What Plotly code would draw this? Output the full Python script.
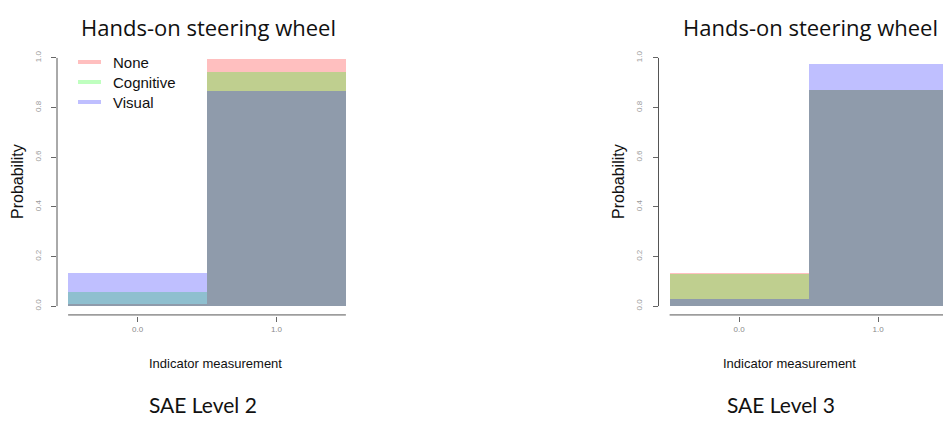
import plotly.graph_objects as go

# Indicator categories and tick labels
categories = [0, 1]
x_tick_text = ["0.0", "1.0"]
y_tick_vals = [0.0, 0.2, 0.4, 0.6, 0.8, 1.0]
y_tick_text = ["0.0", "0.2", "0.4", "0.6", "0.8", "1.0"]

series_names = ["None", "Cognitive", "Visual"]
series_colors = ["rgba(255,0,0,0.25)", "rgba(0,255,0,0.25)", "rgba(0,0,255,0.25)"]

# Probability of each indicator value per distraction condition
level2_none = [0.01, 0.995]
level2_cognitive = [0.055, 0.945]
level2_visual = [0.135, 0.865]

level3_none = [0.135, 0.87]
level3_cognitive = [0.13, 0.87]
level3_visual = [0.03, 0.975]

panel_titles = ["Hands-on steering wheel", "Hands-on steering wheel"]
panel_captions = ["SAE Level 2", "SAE Level 3"]
x_title = "Indicator measurement"
y_title = "Probability"

W, H = 943, 441


def px(x):
    return x / W


def py(y):
    return 1 - y / H


fig = go.Figure()

panels = [
    ("x", "y", [level2_none, level2_cognitive, level2_visual]),
    ("x2", "y2", [level3_none, level3_cognitive, level3_visual]),
]
for xa, ya, series in panels:
    for name, color, vals in zip(series_names, series_colors, series):
        fig.add_trace(go.Bar(
            x=categories, y=vals, name=name, width=1,
            marker=dict(color=color, line=dict(width=0)),
            xaxis=xa, yaxis=ya, showlegend=False,
        ))

# axis geometry (pixels): unit width 139px, y unit 248px
x_left = [-0.58, 1.58]
x_right = [-0.58, -0.58 + (W - 658.5) / 139]
y_rng = [-0.04, 1.04]
y_dom = [py(316), py(48)]

common_x = dict(
    tickmode="array", tickvals=categories, ticktext=x_tick_text,
    ticks="outside", ticklen=5, tickcolor="#666", tickwidth=1,
    tickfont=dict(family="Liberation Sans", size=8, color="#8a8a8a"),
    showgrid=False, zeroline=False, showline=False, fixedrange=True,
)
common_y = dict(
    range=y_rng, domain=y_dom,
    tickmode="array", tickvals=y_tick_vals, ticktext=y_tick_text,
    ticks="outside", ticklen=5, tickcolor="#666", tickwidth=1, tickangle=-90,
    tickfont=dict(family="Liberation Sans", size=8, color="#9a9a9a"),
    ticklabelstandoff=7,
    showgrid=False, zeroline=False, showline=False, fixedrange=True,
)

fig.update_layout(
    width=W, height=H,
    margin=dict(l=0, r=0, t=0, b=0),
    paper_bgcolor="white", plot_bgcolor="white",
    barmode="overlay", bargap=0,
    xaxis=dict(domain=[px(57), px(357)], range=x_left, anchor="y", **common_x),
    yaxis=dict(anchor="x", **common_y),
    xaxis2=dict(domain=[px(658.5), 1.0], range=x_right, anchor="y2", **common_x),
    yaxis2=dict(anchor="x2", **common_y),
)

shapes = []
annotations = []
for xa, ya, xr in [("x", "y", x_left), ("x2", "y2", x_right)]:
    # R-style axis lines spanning only the data extent
    shapes.append(dict(type="line", xref=f"{xa} domain", yref=ya,
                       x0=0, x1=0, y0=0, y1=1, line=dict(color="#555", width=1)))
    shapes.append(dict(type="line", xref=xa, yref=f"{ya} domain",
                       x0=-0.5, x1=min(1.5, xr[1]), y0=0.004, y1=0.004,
                       line=dict(color="#555", width=1)))

# legend drawn as short coloured strokes with labels
for i, (name, color) in enumerate(zip(series_names, series_colors)):
    yy = 62 + i * 20
    shapes.append(dict(type="line", xref="paper", yref="paper",
                       x0=px(78), x1=px(101), y0=py(yy), y1=py(yy),
                       line=dict(color=color, width=4)))
    annotations.append(dict(text=name, xref="paper", yref="paper",
                            x=px(111), y=py(yy), xanchor="left", yanchor="middle",
                            showarrow=False,
                            font=dict(family="Liberation Sans", size=15, color="#111")))

for cx, title, cap_x, xt_x, yl_x, caption in [
    (208, panel_titles[0], 203, 215, 17, panel_captions[0]),
    (810, panel_titles[1], 781, 789, 618, panel_captions[1]),
]:
    annotations.append(dict(text=title, xref="paper", yref="paper",
                            x=px(cx), y=py(27), xanchor="center", yanchor="middle",
                            showarrow=False,
                            font=dict(family="Open Sans", size=22, color="#111")))
    annotations.append(dict(text=x_title, xref="paper", yref="paper",
                            x=px(xt_x), y=py(363), xanchor="center", yanchor="middle",
                            showarrow=False,
                            font=dict(family="Liberation Sans", size=13, color="#111")))
    annotations.append(dict(text=y_title, xref="paper", yref="paper",
                            x=px(yl_x), y=py(182), xanchor="center", yanchor="middle",
                            textangle=-90, showarrow=False,
                            font=dict(family="Liberation Sans", size=16, color="#111")))
    annotations.append(dict(text=caption, xref="paper", yref="paper",
                            x=px(cap_x), y=py(404), xanchor="center", yanchor="middle",
                            showarrow=False,
                            font=dict(family="Lato", size=21, color="#111")))

fig.update_layout(shapes=shapes, annotations=annotations)
fig.write_html("out.html")
